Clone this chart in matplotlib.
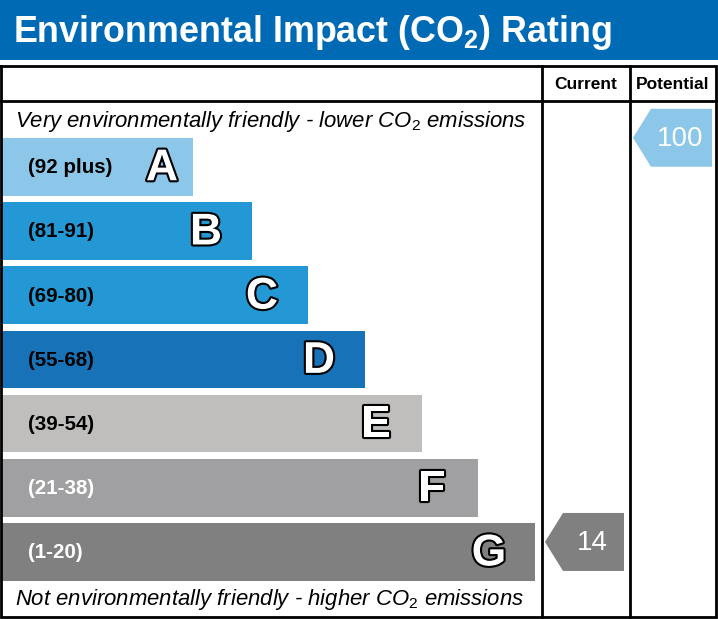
import matplotlib
matplotlib.use("Agg")
import matplotlib.pyplot as plt
from matplotlib.patches import Rectangle, Polygon
import matplotlib.patheffects as pe

plt.rcParams['font.family'] = ['Liberation Sans', 'DejaVu Sans']
plt.rcParams['mathtext.fontset'] = 'custom'
plt.rcParams['mathtext.rm'] = 'Liberation Sans'
plt.rcParams['mathtext.it'] = 'Liberation Sans:italic'
plt.rcParams['mathtext.bf'] = 'Liberation Sans:bold'

# rating bands
letters = ["A", "B", "C", "D", "E", "F", "G"]
ranges = ["(92 plus)", "(81-91)", "(69-80)", "(55-68)", "(39-54)", "(21-38)", "(1-20)"]
bar_len = [191, 250, 306, 363, 420, 476, 533]
band_colors = ["#8cc6e8", "#2398d4", "#2398d4", "#1772b8", "#bfbebd", "#a0a0a2", "#808080"]
label_colors = ["black", "black", "black", "black", "black", "white", "white"]
current = 14
potential = 100
band_low = [92, 81, 69, 55, 39, 21, 1]

W, H = 718, 619
fig = plt.figure(figsize=(W / 100, H / 100), dpi=100)
ax = fig.add_axes([0, 0, 1, 1])
ax.set_xlim(0, W)
ax.set_ylim(H, 0)
ax.axis("off")

# header
ax.add_patch(Rectangle((0, 0), W, 60, color="#006bb4", lw=0))
ax.text(13, 32, r"Environmental Impact (CO$_\mathbf{2}$) Rating", color="white",
        fontsize=25.8, fontweight="bold", va="center", ha="left")

# table frame
top, hdr, bot = 66, 101, 617
c1, c2, right = 542, 630, 716
lw = 2
ax.plot([1, right, right, 1, 1], [top, top, bot, bot, top], color="black", lw=lw,
        solid_joinstyle="miter")
ax.plot([1, right], [hdr, hdr], color="black", lw=lw)
ax.plot([c1, c1], [top, bot], color="black", lw=lw)
ax.plot([c2, c2], [top, bot], color="black", lw=lw)
ax.text((c1 + c2) / 2, (top + hdr) / 2 + 1, "Current", fontsize=12.5, fontweight="bold",
        ha="center", va="center")
ax.text((c2 + right) / 2, (top + hdr) / 2 + 1, "Potential", fontsize=12.5, fontweight="bold",
        ha="center", va="center")

ax.text(15, 121, r"Very environmentally friendly - lower CO$_2$ emissions",
        fontsize=15.9, style="italic", ha="left", va="center")
ax.text(15, 599, r"Not environmentally friendly - higher CO$_2$ emissions",
        fontsize=15.9, style="italic", ha="left", va="center")

# bands
y0, step, bh = 138, 64.2, 57.5
outline = [pe.Stroke(linewidth=3, foreground="black"), pe.Normal()]
centers = []
for i, (let, rng) in enumerate(zip(letters, ranges)):
    y = y0 + i * step
    centers.append(y + bh / 2)
    ax.add_patch(Rectangle((2, y), bar_len[i], bh, color=band_colors[i], lw=0))
    ax.text(28, y + bh / 2 + 1, rng, fontsize=14.8, fontweight="bold",
            color=label_colors[i], ha="left", va="center")
    off = 31 if i == 0 else 46
    ax.text(2 + bar_len[i] - off, y + bh / 2 + 2, let, fontsize=32, fontweight="bold",
            color="white", ha="center", va="center", path_effects=outline)


def band_of(v):
    for i, lo in enumerate(band_low):
        if v >= lo:
            return i
    return len(band_low) - 1


def arrow(x_tip, x_right, yc, color, val):
    h = 58
    pts = [(x_tip, yc), (x_tip + 18, yc - h / 2), (x_right, yc - h / 2),
           (x_right, yc + h / 2), (x_tip + 18, yc + h / 2)]
    ax.add_patch(Polygon(pts, closed=True, color=color, lw=0))
    ax.text((x_tip + 18 + x_right) / 2 - 1, yc + 1, str(val), fontsize=20, color="white",
            ha="center", va="center")


ic = band_of(current)
ip = band_of(potential)
arrow(c1 + 3, c2 - 6, centers[ic] - 10, band_colors[ic], current)
arrow(c2 + 3, right - 4, centers[ip] - 29, band_colors[ip], potential)

fig.savefig("out.png", dpi=100)
